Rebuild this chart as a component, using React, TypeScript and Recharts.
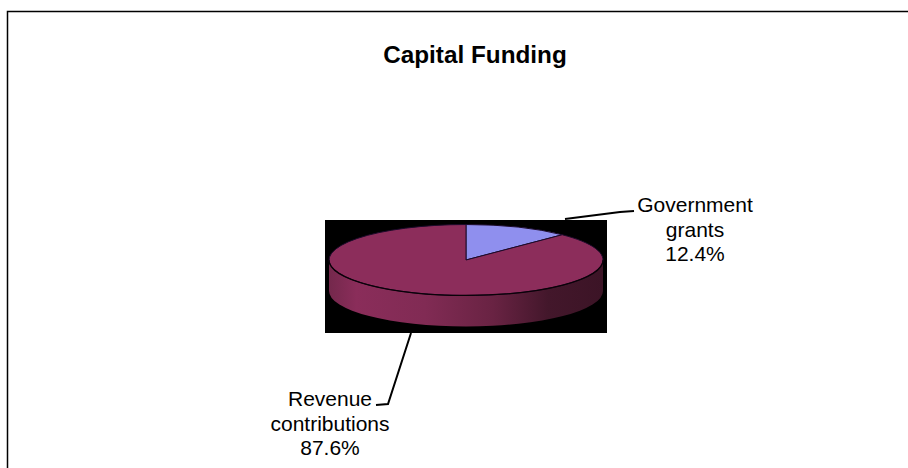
import React from 'react';
import { PieChart, Pie, Cell } from 'recharts';

const SOURCES = ['Government grants', 'Revenue contributions'];
const SHARES = [12.4, 87.6];
const COLORS = ['#8F8FEE', '#8C2D5B'];
const CHART_TITLE = 'Capital Funding';

const FONT = '"Liberation Sans", Arial, sans-serif';
const SQUASH = 0.259; // flattens the pie into the tilted ellipse
const DEPTH = 31;

const pieData = SOURCES.map((name, i) => ({ name, value: SHARES[i] }));

// where each callout sits, same order as SOURCES
const CALLOUTS = [
  { x: 695, y: 212, leader: '565,219 620,212 634,211' },
  { x: 330, y: 406, leader: '411,333 388,404 376,405' },
];

const edgePoint = (cx: number, cy: number, r: number, deg: number) => {
  const rad = (deg * Math.PI) / 180;
  return { x: cx + r * Math.cos(rad), y: cy - r * SQUASH * Math.sin(rad) };
};

const Slice3D = (props: any) => {
  const { cx, cy, outerRadius: r, startAngle, endAngle, fill } = props;
  const ry = r * SQUASH;
  const a = edgePoint(cx, cy, r, startAngle);
  const b = edgePoint(cx, cy, r, endAngle);
  const large = Math.abs(startAngle - endAngle) > 180 ? 1 : 0;
  const top = `M${cx},${cy} L${a.x},${a.y} A${r},${ry} 0 ${large} 1 ${b.x},${b.y} Z`;

  // only the front half of the rim can be seen
  const from = Math.min(startAngle, 0);
  const to = Math.max(endAngle, -180);
  let wall = null;
  let lip = null;
  if (from > to) {
    const p = edgePoint(cx, cy, r, from);
    const q = edgePoint(cx, cy, r, to);
    wall = `M${p.x},${p.y} A${r},${ry} 0 0 1 ${q.x},${q.y} L${q.x},${q.y + DEPTH} A${r},${ry} 0 0 0 ${p.x},${p.y + DEPTH} Z`;
    lip = `M${p.x},${p.y} A${r},${ry} 0 0 1 ${q.x},${q.y}`;
  }
  return (
    <g>
      {wall && <path d={wall} fill="url(#rimShade)" />}
      <path d={top} fill={fill} stroke="#1c0a2a" strokeWidth={1} />
      {lip && <path d={lip} fill="none" stroke="#0a0208" strokeWidth={1.2} />}
    </g>
  );
};

const renderCallout = (props: any) => {
  const { index, percent, name } = props;
  const spot = CALLOUTS[index];
  const lines = [...name.split(' '), `${(percent * 100).toFixed(1)}%`];
  return (
    <g key={name}>
      <polyline points={spot.leader} fill="none" stroke="#000" strokeWidth={2} />
      {lines.map((line: string, i: number) => (
        <text key={line} x={spot.x} y={spot.y + i * 24.5} textAnchor="middle" fontFamily={FONT} fontSize={21} fill="#000">
          {line}
        </text>
      ))}
    </g>
  );
};

export default function App() {
  return (
    <div style={{ position: 'absolute', left: 0, top: 0, width: 908, height: 468, background: '#fff', overflow: 'hidden' }}>
      <PieChart width={908} height={468} margin={{ top: 0, right: 0, bottom: 0, left: 0 }}>
        <defs>
          <linearGradient id="rimShade" x1="0" y1="0" x2="1" y2="0">
            <stop offset="0" stopColor="#74284C" />
            <stop offset="0.1" stopColor="#8A2D5A" />
            <stop offset="0.35" stopColor="#812B54" />
            <stop offset="0.6" stopColor="#692343" />
            <stop offset="0.8" stopColor="#43172B" />
            <stop offset="1" stopColor="#3C1426" />
          </linearGradient>
        </defs>
        <path d="M7.5,468 L7.5,11.5 L908,11.5" fill="none" stroke="#000" strokeWidth={1.5} />
        <text x={475} y={63} textAnchor="middle" fontFamily={FONT} fontSize={24.3} fontWeight="bold" fill="#000">
          {CHART_TITLE}
        </text>
        <rect x={325} y={220} width={282} height={113} fill="#000" />
        <Pie
          data={pieData}
          dataKey="value"
          nameKey="name"
          cx={466}
          cy={260}
          innerRadius={0}
          outerRadius={137}
          startAngle={90}
          endAngle={-270}
          paddingAngle={0}
          stroke="none"
          shape={Slice3D}
          label={renderCallout}
          labelLine={false}
          isAnimationActive={false}
        >
          {pieData.map((entry, i) => (
            <Cell key={entry.name} fill={COLORS[i]} />
          ))}
        </Pie>
      </PieChart>
    </div>
  );
}
